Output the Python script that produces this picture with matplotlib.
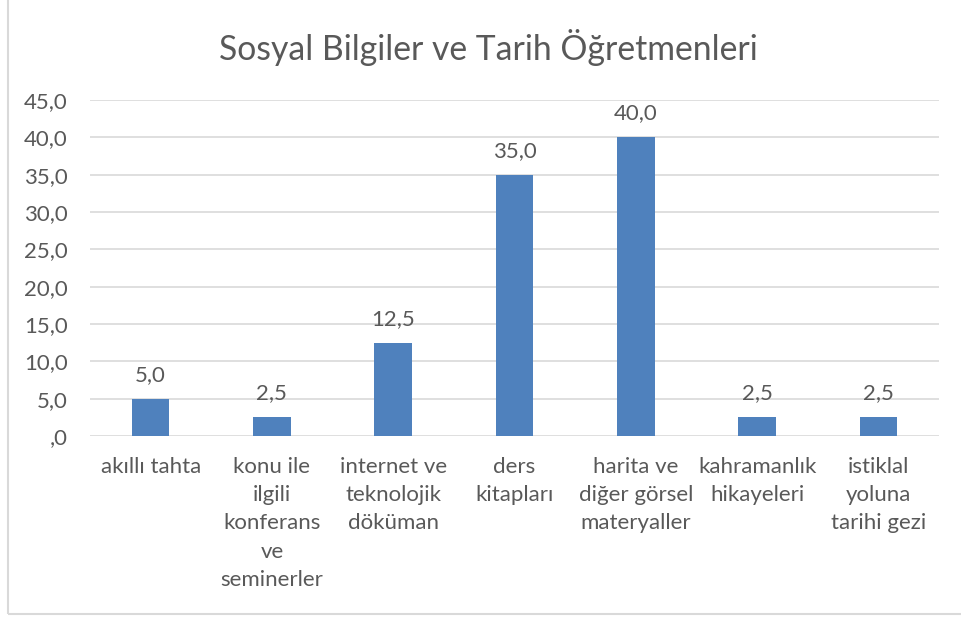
import matplotlib.pyplot as plt
from matplotlib.patches import Rectangle
from matplotlib.ticker import FuncFormatter
import numpy as np

categories = [
    "akıllı tahta",
    "konu ile\nilgili\nkonferans\nve\nseminerler",
    "internet ve\nteknolojik\ndöküman",
    "ders\nkitapları",
    "harita ve\ndiğer görsel\nmateryaller",
    "kahramanlık\nhikayeleri",
    "istiklal\nyoluna\ntarihi gezi",
]
values = [5.0, 2.5, 12.5, 35.0, 40.0, 2.5, 2.5]
yticks = [0, 5, 10, 15, 20, 25, 30, 35, 40, 45]
title = "Sosyal Bilgiler ve Tarih Öğretmenleri"

TEXT = "#595959"
BAR = "#4f81bd"
GRID = "#d9d9d9"
FS = 16

plt.rcParams["font.family"] = ["Lato", "DejaVu Sans"]


def tr_fmt(v, _pos=None):
    # Turkish decimal comma, leading zero dropped like "#,0"
    s = f"{v:.1f}".replace(".", ",")
    if s.startswith("0,"):
        s = s[1:]
    return s


fig = plt.figure(figsize=(9.61, 6.21), dpi=100)
ax = fig.add_axes([90 / 961, 1 - 436 / 621, (939 - 90) / 961, (436 - 100) / 621])

x = np.arange(len(categories))
bars = ax.bar(x, values, width=0.31, color=BAR, zorder=3)
for b, v in zip(bars, values):
    ax.annotate(tr_fmt(v), (b.get_x() + b.get_width() / 2, v), xytext=(0, 10),
                textcoords="offset points", ha="center", va="bottom",
                fontsize=FS, color=TEXT)

ax.set_xlim(-0.5, len(categories) - 0.5)
ax.set_ylim(0, 45)
ax.set_yticks(yticks)
ax.yaxis.set_major_formatter(FuncFormatter(tr_fmt))
ax.set_xticks(x)
ax.set_xticklabels(categories, linespacing=1.52)
ax.tick_params(axis="both", length=0, labelsize=FS, labelcolor=TEXT)
ax.tick_params(axis="y", pad=16)
ax.tick_params(axis="x", pad=15)
ax.grid(axis="y", color=GRID, linewidth=1.2, zorder=0)
for s in ax.spines.values():
    s.set_visible(False)

fig.text(488 / 961, 1 - 48 / 621, title, ha="center", va="center",
         fontsize=24.3, color=TEXT)

# outer chart frame
fig.add_artist(Rectangle((8 / 961, 7 / 621), 1.0, 1.0, transform=fig.transFigure,
                         fill=False, edgecolor=GRID, linewidth=1.5))

fig.savefig("out.png", dpi=100)
